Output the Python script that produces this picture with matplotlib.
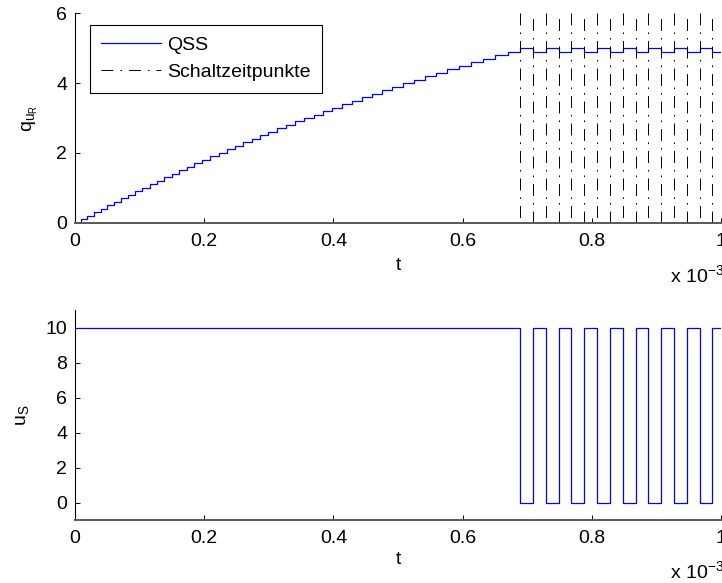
import matplotlib
matplotlib.use("Agg")
import matplotlib.pyplot as plt

# times in units of 1e-3 s (axis shows "x 10^-3")
step_times = [0.0, 0.0097, 0.0195, 0.0298, 0.0402, 0.0504, 0.0608, 0.0716, 0.0824, 0.0932,
              0.1045, 0.1160, 0.1273, 0.1385, 0.1505, 0.1617, 0.1737, 0.1852, 0.1973, 0.2097,
              0.2227, 0.2350, 0.2474, 0.2607, 0.2737, 0.2865, 0.2994, 0.3128, 0.3267, 0.3407,
              0.3550, 0.3696, 0.3835, 0.3983, 0.4133, 0.4288, 0.4443, 0.4593, 0.4752, 0.4911,
              0.5077, 0.5242, 0.5412, 0.5587, 0.5762, 0.5938, 0.6123, 0.6309, 0.6499, 0.6696]
step_levels = [0.0, 0.1, 0.2, 0.3, 0.4, 0.5, 0.6, 0.7, 0.8, 0.9,
               1.0, 1.1, 1.2, 1.3, 1.4, 1.5, 1.6, 1.7, 1.8, 1.9,
               2.0, 2.1, 2.2, 2.3, 2.4, 2.5, 2.6, 2.7, 2.8, 2.9,
               3.0, 3.1, 3.2, 3.3, 3.4, 3.5, 3.6, 3.7, 3.8, 3.9,
               4.0, 4.1, 4.2, 4.3, 4.4, 4.5, 4.6, 4.7, 4.8, 4.9]

switch_times = [0.6886, 0.7091, 0.7283, 0.7489, 0.7679, 0.7880, 0.8076, 0.8277,
                0.8474, 0.8675, 0.8870, 0.9066, 0.9267, 0.9463, 0.9665, 0.9859]
q_after_switch = [5.0, 4.9, 5.0, 4.9, 5.0, 4.9, 5.0, 4.9,
                  5.0, 4.9, 5.0, 4.9, 5.0, 4.9, 5.0, 4.9]
u_after_switch = [0, 10, 0, 10, 0, 10, 0, 10,
                  0, 10, 0, 10, 0, 10, 0, 10]
u_start = 10
t_end = 1.0

plt.rcParams["font.family"] = ["Liberation Sans", "DejaVu Sans"]
plt.rcParams["font.size"] = 14
plt.rcParams["mathtext.fontset"] = "custom"
plt.rcParams["mathtext.rm"] = "Liberation Sans"
plt.rcParams["mathtext.default"] = "regular"
plt.rcParams["lines.scale_dashes"] = False

blue = (0, 0, 1)
dashdot = (0, (8.6, 5.0, 1.2, 5.0))

fig = plt.figure(figsize=(7.22, 5.83), dpi=100)
ax1 = fig.add_axes([0.1035, 0.618, 0.8957, 0.3592])
ax2 = fig.add_axes([0.1035, 0.108, 0.8957, 0.3602])

# top: quantized state
tq = step_times + switch_times + [t_end]
qv = step_levels + q_after_switch + [q_after_switch[-1]]
ax1.step(tq, qv, where="post", color=blue, lw=0.9, label="QSS")
for i, ts in enumerate(switch_times):
    ys = [0, 6] if i % 2 else [6, 0]
    ax1.plot([ts, ts], ys, color="black", lw=0.7, linestyle=dashdot,
             label="Schaltzeitpunkte" if i == 0 else None)
ax1.set_xlim(0, 1)
ax1.set_ylim(0, 6)
ax1.set_yticks([0, 2, 4, 6])
ax1.set_xlabel("t", va="center")
ax1.set_ylabel("q$_{u_R}$", va="center")
ax1.xaxis.set_label_coords(0.5, -0.202)
ax1.yaxis.set_label_coords(-0.068, 0.5)

leg = ax1.legend(loc="upper left", bbox_to_anchor=(0.0237, 0.9456), borderaxespad=0,
                 fancybox=False, framealpha=1, edgecolor="black", handlelength=3.05,
                 handletextpad=0.35, labelspacing=0.52, borderpad=0.58)
leg.get_frame().set_linewidth(0.8)

# bottom: switch voltage
tu = [0.0] + switch_times + [t_end]
uv = [u_start] + u_after_switch + [u_after_switch[-1]]
ax2.step(tu, uv, where="post", color=blue, lw=0.9)
ax2.set_xlim(0, 1)
ax2.set_ylim(-1, 11)
ax2.set_yticks([0, 2, 4, 6, 8, 10])
ax2.set_xlabel("t", va="center")
ax2.set_ylabel("u$_S$", va="center")
ax2.xaxis.set_label_coords(0.5, -0.19)
ax2.yaxis.set_label_coords(-0.080, 0.5)

for ax in (ax1, ax2):
    ax.set_xticks([0, 0.2, 0.4, 0.6, 0.8, 1.0])
    ax.set_xticklabels(["0", "0.2", "0.4", "0.6", "0.8", "1"])
    ax.spines["top"].set_visible(False)
    ax.spines["right"].set_visible(False)
    ax.spines["left"].set_linewidth(0.8)
    ax.spines["bottom"].set_linewidth(1.4)
    ax.spines["bottom"].set_color("0.35")
    ax.tick_params(direction="in", length=3.6, width=0.7)
    ax.tick_params(axis="y", pad=5.5)
    ax.tick_params(axis="x", pad=7.5)

fig.text(670 / 722, 1 - 282 / 583, "x 10$^{-3}$", va="baseline", ha="left")
fig.text(670 / 722, 1 - 578 / 583, "x 10$^{-3}$", va="baseline", ha="left")

fig.savefig("out.png", dpi=100)
